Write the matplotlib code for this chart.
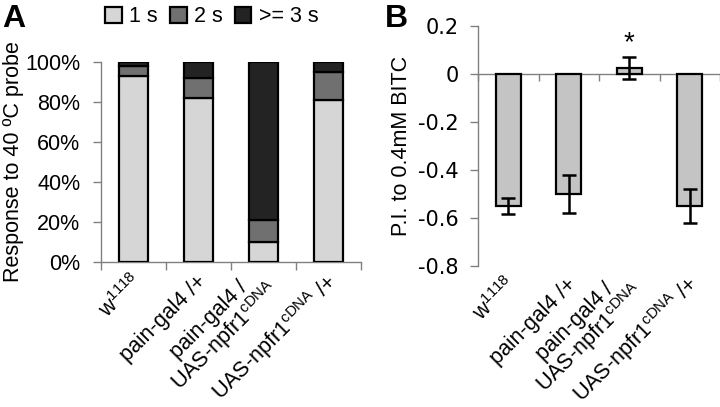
import matplotlib
matplotlib.use('Agg')
import matplotlib.pyplot as plt
import numpy as np

plt.rcParams['font.family'] = ['Liberation Sans', 'DejaVu Sans']
plt.rcParams['mathtext.fontset'] = 'custom'
plt.rcParams['mathtext.rm'] = 'Liberation Sans'
plt.rcParams['mathtext.it'] = 'Liberation Sans:italic'
plt.rcParams['mathtext.default'] = 'regular'

# ---- data ----
genotypes = ['w$^{1118}$', 'pain-gal4 /+', 'pain-gal4 /\nUAS-npfr1$^{cDNA}$', 'UAS-npfr1$^{cDNA}$ /+']
resp_1s = [0.93, 0.82, 0.10, 0.81]
resp_2s = [0.05, 0.10, 0.11, 0.14]
resp_3s = [0.02, 0.08, 0.79, 0.05]
legend_labels = ['1 s', '2 s', '>= 3 s']
pct_ticks = [0.0, 0.2, 0.4, 0.6, 0.8, 1.0]
pct_labels = ['0%', '20%', '40%', '60%', '80%', '100%']

pi_mean = [-0.55, -0.50, 0.025, -0.55]
pi_err = [0.035, 0.08, 0.045, 0.07]
pi_ticks = [-0.8, -0.6, -0.4, -0.2, 0.0, 0.2]
pi_labels = ['-0.8', '-0.6', '-0.4', '-0.2', '0', '0.2']

# ---- style ----
c1, c2, c3 = '#d6d6d6', '#707070', '#232323'
cB = '#c4c4c4'
spine_c = '#808080'
fs = 15.5
xfs = 15.5
lab_shift = 0.08

fig = plt.figure(figsize=(7.2, 4.07), dpi=100)
W, H = 720, 407


def style_xlabels(ax):
    for lab in ax.get_xticklabels():
        lab.set_rotation(45)
        lab.set_ha('right')
        lab.set_va('center')
        lab.set_rotation_mode('anchor')
        lab.set_multialignment('center')
        lab.set_linespacing(0.9)


# ---------- Panel A ----------
axA = fig.add_axes([101 / W, 1 - 262 / H, 260 / W, 200 / H])
x = np.arange(len(genotypes))
bw = 0.45
bot2 = np.array(resp_1s)
bot3 = bot2 + np.array(resp_2s)
kw = dict(width=bw, edgecolor='black', linewidth=1.6, zorder=3)
b1 = axA.bar(x, resp_1s, color=c1, **kw)
b2 = axA.bar(x, resp_2s, bottom=bot2, color=c2, **kw)
b3 = axA.bar(x, resp_3s, bottom=bot3, color=c3, **kw)
axA.set_xlim(-0.5, len(genotypes) - 0.5)
axA.set_ylim(0, 1.0)
axA.set_yticks(pct_ticks)
axA.set_yticklabels(pct_labels, fontsize=fs)
axA.set_xticks(x + lab_shift)
axA.set_xticklabels(genotypes, fontsize=xfs)
axA.set_xticks(np.arange(-0.5, len(genotypes)), minor=True)
axA.tick_params(axis='x', which='major', length=0, pad=12)
axA.tick_params(axis='x', which='minor', length=6, color=spine_c, width=1)
axA.tick_params(axis='y', which='major', length=6, color=spine_c, width=1, pad=9)
for s in ['top', 'right']:
    axA.spines[s].set_visible(False)
for s in ['left', 'bottom']:
    axA.spines[s].set_color(spine_c)
    axA.spines[s].set_linewidth(1)
style_xlabels(axA)
axA.set_ylabel('Response to 40 ºC probe', fontsize=fs, labelpad=1)
fig.legend([b1, b2, b3], legend_labels, loc='center left', ncol=3,
           bbox_to_anchor=(105 / W, 1 - 17 / H), frameon=False, fontsize=fs,
           handlelength=0.78, handleheight=0.72, handletextpad=0.35,
           columnspacing=0.55, borderaxespad=0, borderpad=0)
fig.text(2 / W, 1 - 27 / H, 'A', fontsize=23, fontweight='bold', ha='left', va='baseline')

# ---------- Panel B ----------
axB = fig.add_axes([478 / W, 1 - 266 / H, 242 / W, 240 / H])
bwB = 0.42
axB.bar(x, pi_mean, width=bwB, color=cB, edgecolor='black', linewidth=1.6, zorder=3)
axB.errorbar(x, pi_mean, yerr=pi_err, fmt='none', ecolor='black', elinewidth=1.8,
             capsize=5, capthick=1.8, zorder=4)
axB.set_xlim(-0.5, len(genotypes) - 0.5)
axB.set_ylim(-0.8, 0.2)
axB.set_yticks(pi_ticks)
axB.set_yticklabels(pi_labels, fontsize=15, family='DejaVu Sans')
axB.tick_params(axis='y', which='major', length=6, color=spine_c, width=1, pad=8)
axB.set_xticks(x + lab_shift)
axB.set_xticklabels(genotypes, fontsize=xfs)
axB.tick_params(axis='x', which='major', length=0, pad=11)
for s in ['top', 'right', 'bottom']:
    axB.spines[s].set_visible(False)
axB.spines['left'].set_color(spine_c)
axB.spines['left'].set_linewidth(1)
style_xlabels(axB)
sec = axB.secondary_xaxis(0, transform=axB.transData)
sec.set_xticks(np.arange(-0.5, len(genotypes)))
sec.tick_params(axis='x', length=5, color=spine_c, width=1, labelbottom=False, labeltop=False)
sec.spines['bottom'].set_color(spine_c)
sec.spines['bottom'].set_linewidth(1)
sec.spines['top'].set_visible(False)
axB.text(2, 0.13, '*', fontsize=20, ha='center', va='center')
axB.set_ylabel('P.I. to 0.4mM BITC', fontsize=fs, labelpad=4)
fig.text(385 / W, 1 - 27 / H, 'B', fontsize=23, fontweight='bold', ha='left', va='baseline')

fig.savefig('out.png', dpi=100, facecolor='white')
